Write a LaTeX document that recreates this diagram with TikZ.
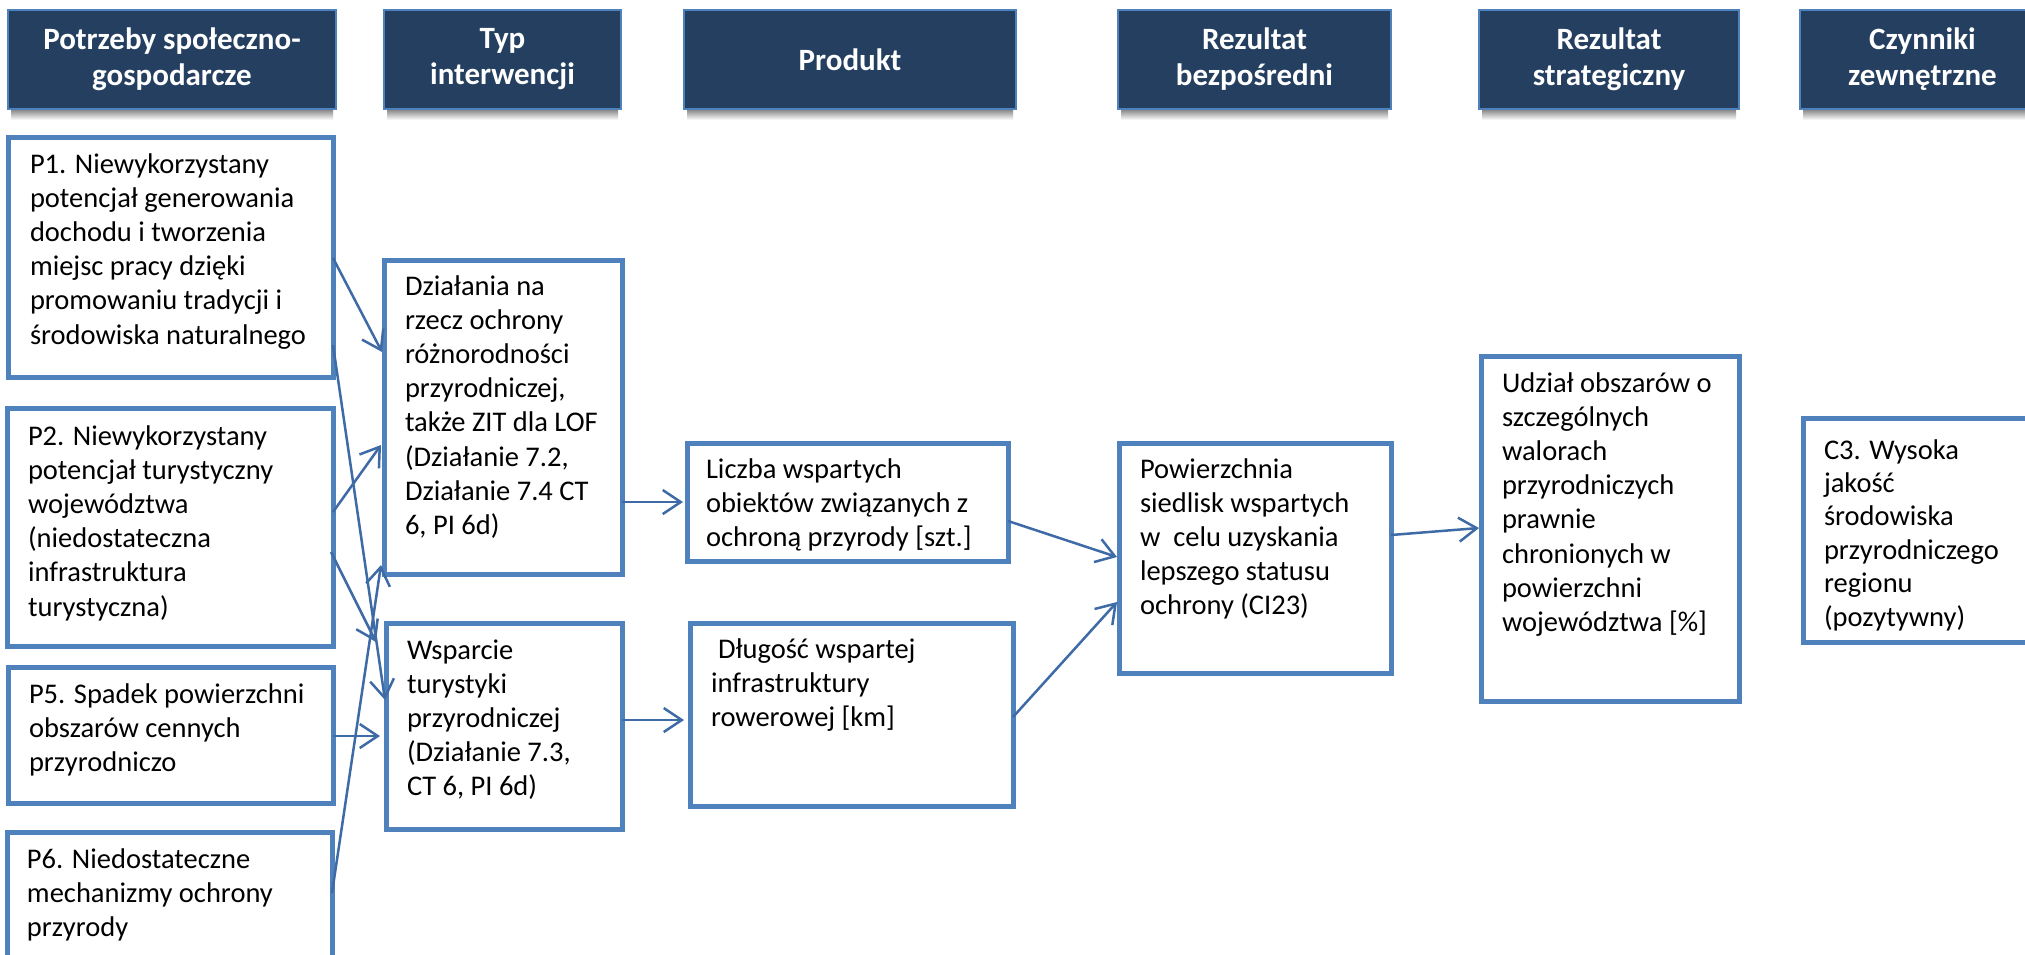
\documentclass[tikz,border=0pt]{standalone}
\usepackage{fontspec}
\setmainfont{Carlito}
\usetikzlibrary{arrows.meta,calc}
\definecolor{boxblue}{HTML}{4F81BD}
\definecolor{hdrfill}{HTML}{243F60}
\definecolor{arrblue}{HTML}{3E6AA6}
\newcommand\flstrut{\rule{0pt}{24pt}}
\begin{document}
\begin{tikzpicture}[x=1pt,y=-1pt,
 box/.style={draw=boxblue, line width=5pt, fill=white, anchor=north west, inner sep=0pt, outer sep=0pt},
 hdr/.style={draw=boxblue, line width=1.2pt, fill=hdrfill, text=white, anchor=north west, inner sep=0pt, outer sep=0pt, minimum height=99pt, align=center, font=\fontsize{31}{36}\selectfont\bfseries},
 txt/.style={anchor=north west, inner sep=0pt, outer sep=0pt, align=left, font=\fontsize{28.5}{34.2}\selectfont},
 conn/.style={draw=arrblue, line width=2.5pt, -{Straight Barb[length=18pt,width=24pt]}}]
\useasboundingbox (0,0) rectangle (2025,954);
\clip (0,0) rectangle (2025,954);
\fill[white] (0,0) rectangle (2025,954);

% headers
\node[hdr, minimum width=328pt] (h1) at (8,10) {Potrzeby społeczno-\\gospodarcze};
\node[hdr, minimum width=237pt] (h2) at (384,10) {Typ\\interwencji};
\node[hdr, minimum width=332pt] (h3) at (684,10) {Produkt};
\node[hdr, minimum width=273pt] (h4) at (1118,10) {Rezultat\\bezpośredni};
\node[hdr, minimum width=260pt] (h5) at (1479,10) {Rezultat\\strategiczny};
\node[hdr, minimum width=245pt] (h6) at (1800,10) {Czynniki\\zewnętrzne};
\foreach \h in {h1,h2,h3,h4,h5,h6}{
  \shade[top color=black!45,bottom color=white] ($(\h.south west)+(3,1)$) rectangle ($(\h.south east)+(-3,11)$);
}

% boxes
\node[box, minimum width=325pt, minimum height=240pt] (p1) at (8,137) {};
\node[box, minimum width=326pt, minimum height=238pt] (p2) at (7,408) {};
\node[box, minimum width=325pt, minimum height=136pt] (p5) at (8,667) {};
\node[box, minimum width=325pt, minimum height=168pt] (p6) at (7,832) {};
\node[box, minimum width=238pt, minimum height=314pt] (t1) at (384,260) {};
\node[box, minimum width=236pt, minimum height=206pt] (t2) at (386,623) {};
\node[box, minimum width=321pt, minimum height=118pt] (pr1) at (687,443) {};
\node[box, minimum width=323pt, minimum height=183pt] (pr2) at (690,623) {};
\node[box, minimum width=272pt, minimum height=230pt] (r1) at (1119,443) {};
\node[box, minimum width=258pt, minimum height=345pt] (r2) at (1481,356) {};
\node[box, minimum width=242pt, minimum height=224pt] (c3) at (1803,418) {};

% texts
\node[txt] (p1t) at (30,149) {\flstrut P1. Niewykorzystany\\potencjał generowania\\dochodu i tworzenia\\miejsc pracy dzięki\\promowaniu tradycji i\\środowiska naturalnego};
\node[txt] (p2t) at (28,421) {\flstrut P2. Niewykorzystany\\potencjał turystyczny\\województwa\\(niedostateczna\\infrastruktura\\turystyczna)};
\node[txt] (p5t) at (29,679) {\flstrut P5. Spadek powierzchni\\obszarów cennych\\przyrodniczo};
\node[txt] (p6t) at (27,844) {\flstrut P6. Niedostateczne\\mechanizmy ochrony\\przyrody};
\node[txt] (t1t) at (405,271) {\flstrut Działania na\\rzecz ochrony\\różnorodności\\przyrodniczej,\\także ZIT dla LOF\\(Działanie 7.2,\\Działanie 7.4 CT\\6, PI 6d)};
\node[txt] (t2t) at (407,635) {\flstrut Wsparcie\\turystyki\\przyrodniczej\\(Działanie 7.3,\\CT 6, PI 6d)};
\node[txt] (pr1t) at (706,454) {\flstrut Liczba wspartych\\obiektów związanych z\\ochroną przyrody [szt.]};
\node[txt] (pr2t) at (711,634) {\flstrut\hspace{7pt}Długość wspartej\\infrastruktury\\rowerowej [km]};
\node[txt] (r1t) at (1140,454) {\flstrut Powierzchnia\\siedlisk wspartych\\w\ \ celu uzyskania\\lepszego statusu\\ochrony (CI23)};
\node[txt] (r2t) at (1502,368) {\flstrut Udział obszarów o\\szczególnych\\walorach\\przyrodniczych\\prawnie\\chronionych w\\powierzchni\\województwa [\%]};
\node[txt, font=\fontsize{28.5}{33.4}\selectfont] (c3t) at (1824,435) {\flstrut C3. Wysoka\\jakość\\środowiska\\przyrodniczego\\regionu\\(pozytywny)};

% connectors
\draw[conn] ($(p1.north east)+(0,121)$) -- ($(t1.north west)+(-2,92)$);
\draw[conn] ($(p1.north east)+(0,208)$) -- ($(t2.north west)+(-1,77)$);
\draw[conn] ($(p2.north east)+(0,104)$) -- ($(t1.north west)+(-3,185)$);
\draw[conn] ($(p2.north east)+(-2,144)$) -- ($(t2.north west)+(-10,19)$);
\draw[conn] ($(p5.north east)+(0,69)$) -- ($(t2.north west)+(-6,113)$);
\draw[conn] ($(p6.north east)+(0,61)$) -- ($(t1.south west)+(-3,-9)$);
\draw[conn] ($(t1.north east)+(0,242)$) -- ($(pr1.north west)+(-4,59)$);
\draw[conn] ($(t2.north east)+(0,97)$) -- ($(pr2.north west)+(-6,97)$);
\draw[conn] ($(pr1.north east)+(0,78)$) -- ($(r1.north west)+(-2,114)$);
\draw[conn] ($(pr2.north east)+(0,94)$) -- ($(r1.north west)+(-2,159)$);
\draw[conn] ($(r1.north east)+(0,92)$) -- ($(r2.north west)+(-2,172)$);
\end{tikzpicture}
\end{document}
